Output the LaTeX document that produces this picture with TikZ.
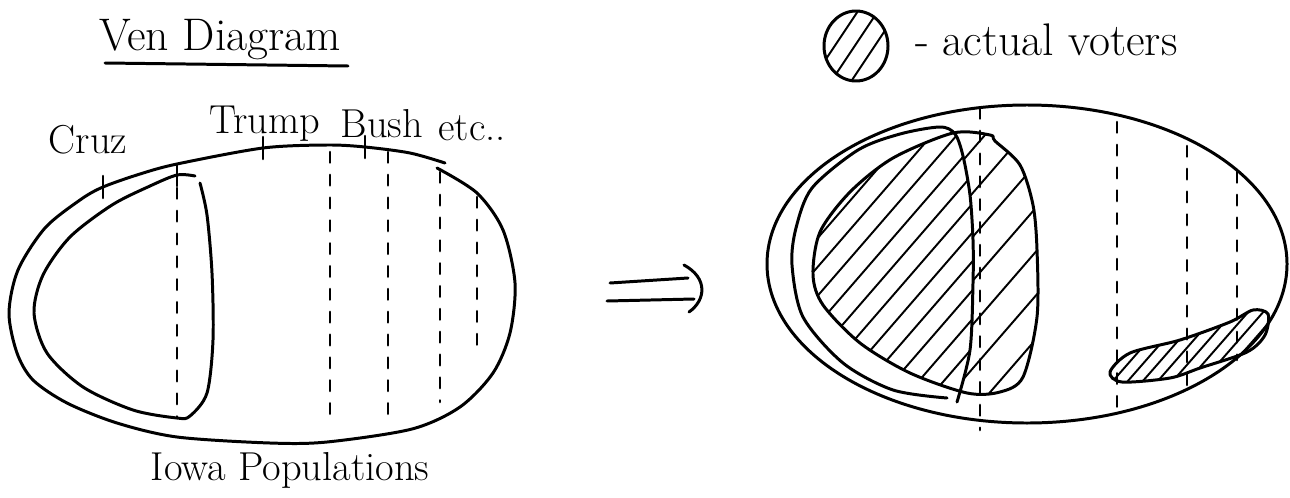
\documentclass[tikz,border=0pt]{standalone}
\usetikzlibrary{positioning}

\tikzset{
	pen/.style={line width=1.7pt, line cap=round, line join=round},
	split/.style={line width=1.5pt, line cap=round, dash pattern=on 6pt off 7pt},
	tickmark/.style={line width=1.5pt, line cap=round},
	hatchline/.style={line width=1.1pt, line cap=round},
	hand/.style={font=\fontsize{23}{27}\selectfont, inner sep=0pt},
	bighand/.style={font=\fontsize{26}{30}\selectfont, inner sep=0pt},
}

\begin{document}
\begin{tikzpicture}[x=0.02cm, y=-0.02cm]
	\useasboundingbox (0,0) rectangle (1290,497);

	% before: all of Iowa, cut up by candidate
	\def\iowaA{plot[smooth] coordinates {(437,168) (477,193) (503,230) (515,283) (510,333) (493,373) (460,407) (412,429) (327,442) (270,443) (177,437) (117,423) (67,403) (33,380) (17,353) (9,313) (18,270) (45,228) (80,200) (103,187) (140,174) (177,164) (263,148) (327,145) (365,147) (410,153) (445,163)}}
	\def\cruzA{plot[smooth] coordinates {(195,176) (177,175) (150,186) (112,205) (70,237) (43,275) (34,313) (47,353) (83,387) (133,410) (177,418) (190,416) (207,393) (213,340) (212,273) (207,215) (200,183)}}

	\draw[pen] \iowaA;
	\draw[pen] \cruzA;

	\coordinate (tickCruz) at (103,187);
	\coordinate (tickCruzIn) at (177,175);
	\coordinate (tickTrump) at (263,148);
	\coordinate (tickBush) at (365,147);
	\foreach \t in {tickCruz, tickCruzIn, tickTrump, tickBush}
		\draw[tickmark] ([yshift=0.22cm]\t) -- ([yshift=-0.22cm]\t);

	\foreach \x/\top/\bot in {177/188/418, 330/152/425, 388/152/422, 440/172/402, 477/197/350}
		\draw[split] (\x,\top) -- (\x,\bot);

	\node[bighand] (title) at (220,40) {Ven Diagram};
	\draw[pen] (105,63) -- (348,66);
	\node[hand] (cruz) at (88,140) {Cruz};
	\node[hand] (trump) at (265,124) {Trump};
	\node[hand] (bush) at (382,124) {Bush};
	\node[hand] (etc) at (472,128) {etc..};
	\node[hand] (iowa) at (290,470) {Iowa Populations};

	% the "implies" sign
	\coordinate (impA) at (610,283);
	\coordinate (impB) at (688,278);
	\coordinate (impC) at (607,301);
	\coordinate (impD) at (694,299);
	\draw[pen] (impA) -- (impB);
	\draw[pen] (impC) -- (impD);
	\draw[pen] (684,265) .. controls (708,278) and (706,300) .. (689,312);

	% after: who actually voted
	\def\cruzRing{plot[smooth] coordinates {(947,398) (893,390) (843,363) (803,317) (792,265) (796,228) (812,188) (858,150) (900,134) (940,127) (955,134) (963,156) (970,195) (973,240) (973,283) (970,350) (957,402)}}
	\def\cruzCut{plot[smooth] coordinates {(940,127) (955,134) (963,156) (970,195) (973,240) (973,283) (970,350) (957,402)}}
	\def\cruzEgg{plot[smooth cycle] coordinates {(990,135) (953,133) (893,158) (850,192) (820,232) (813,275) (823,305) (860,343) (910,373) (967,393) (1000,392) (1023,377) (1037,317) (1037,250) (1033,205) (1020,165) (995,141)}}
	\def\trumpBlob{plot[smooth cycle] coordinates {(1110,372) (1130,353) (1180,340) (1230,322) (1253,310) (1268,314) (1265,335) (1247,352) (1200,368) (1170,378) (1122,382)}}

	\begin{scope}
		\clip \cruzEgg;
		\clip \cruzCut -- (780,402) -- (780,127) -- cycle;
		\foreach \x in {560,585,...,980}
			\draw[hatchline] (\x,420) -- ++(260,-300);
	\end{scope}
	\begin{scope}
		\clip \cruzEgg;
		\clip \cruzCut -- (1060,402) -- (1060,127) -- cycle;
		\foreach \x in {700,738,...,1060}
			\draw[hatchline] (\x,420) -- ++(260,-300);
	\end{scope}
	\begin{scope}
		\clip \trumpBlob;
		\foreach \x in {1060,1075,...,1280}
			\draw[hatchline] (\x,390) -- ++(70,-80);
	\end{scope}

	\draw[pen] (1027,264) ellipse (260 and 159);
	\draw[pen] \cruzRing;
	\draw[pen] \cruzEgg;
	\draw[pen] \trumpBlob;

	\foreach \x/\top/\bot in {980/108/430, 1117/122/418, 1187/146/392, 1237/172/360}
		\draw[split] (\x,\top) -- (\x,\bot);

	% legend
	\def\voteMark{(856,46) ellipse (32 and 35)}
	\begin{scope}
		\clip \voteMark;
		\foreach \x in {812,832,852}
			\draw[hatchline] (\x,80) -- ++(50,-75);
	\end{scope}
	\draw[pen] \voteMark;
	\node[bighand, anchor=west] (voters) at (915,40) {- actual voters};
\end{tikzpicture}
\end{document}
